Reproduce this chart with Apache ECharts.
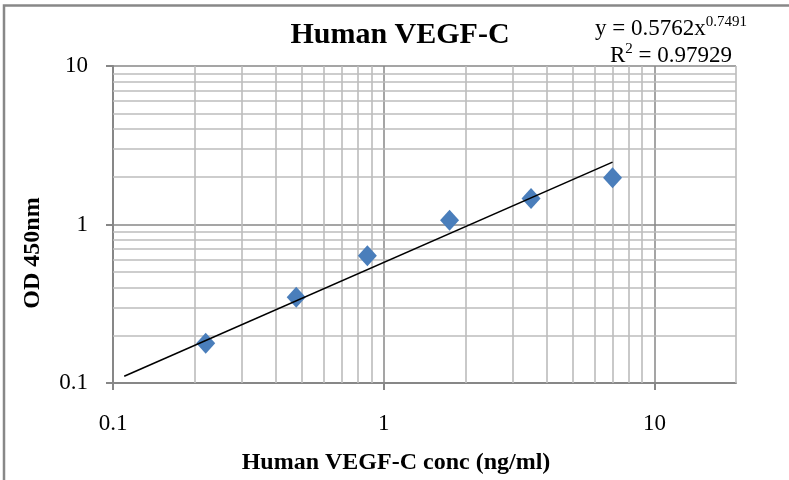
<!DOCTYPE html>
<html><head><meta charset="utf-8">
<script src="https://cdn.jsdelivr.net/npm/echarts@6/dist/echarts.min.js"></script>
<style>html,body{margin:0;padding:0;background:#fff}#c{width:789px;height:480px}</style>
</head><body><div id="c"></div>
<script>
// ---- data ----
const concentrations = [0.22, 0.475, 0.87, 1.75, 3.5, 7.0];   // ng/ml
const odValues = [0.178, 0.347, 0.634, 1.065, 1.46, 1.97];      // OD 450nm
const xTickValues = [0.1, 1, 10];
const yTickValues = [0.1, 1, 10];
const fitCoefA = 0.5762;
const fitExpB = 0.7491;
const fitR2 = '0.97929';
const fitRange = [0.11, 7.0];
const xMinorTicks = [0.2,0.3,0.4,0.5,0.6,0.7,0.8,0.9,2,3,4,5,6,7,8,9,20];
const yMinorTicks = [0.2,0.3,0.4,0.5,0.6,0.7,0.8,0.9,2,3,4,5,6,7,8,9];

const FONT = "'Liberation Serif', 'Times New Roman', serif";
const MAJOR = '#878787', MINOR = '#bcbcbc';

const scatterData = concentrations.map((x, i) => [x, odValues[i]]);
const trendData = fitRange.map(x => [x, fitCoefA * Math.pow(x, fitExpB)]);

function fmt(v) { return v < 1 ? String(+v.toFixed(1)) : String(Math.round(v)); }

const minorLines = xMinorTicks.map(v => ({ xAxis: v }))
  .concat(yMinorTicks.map(v => ({ yAxis: v })));

const chart = echarts.init(document.getElementById('c'), null, { renderer: 'canvas' });
chart.setOption({
  animation: false,
  backgroundColor: '#fff',
  title: [{
    text: 'Human VEGF-C',
    left: 400, top: 20, textAlign: 'center', padding: 0,
    textStyle: { fontFamily: FONT, fontSize: 30, fontWeight: 'bold', color: '#000' }
  }, {
    text: '{n|y = ' + fitCoefA + 'x}{s|' + fitExpB + '}\n{n|R}{s|2}{n| = ' + fitR2 + '}',
    left: 671, top: 15, textAlign: 'center', padding: 0,
    textStyle: {
      fontFamily: FONT, color: '#000', fontWeight: 'normal', align: 'center',
      rich: {
        n: { fontFamily: FONT, fontSize: 23, fontWeight: 'normal', lineHeight: 27, color: '#000' },
        s: { fontFamily: FONT, fontSize: 15, fontWeight: 'normal', lineHeight: 15, verticalAlign: 'top', color: '#000' }
      }
    }
  }],
  grid: { left: 113, top: 66, right: 53, bottom: 97, containLabel: false },
  xAxis: {
    type: 'log', logBase: 10, min: 0.1, max: 20,
    axisLine: { onZero: false, lineStyle: { color: MAJOR, width: 2 } },
    axisTick: { show: true, length: 7, customValues: xTickValues, lineStyle: { color: MAJOR, width: 2 } },
    axisLabel: { margin: 29, fontFamily: FONT, fontSize: 23, color: '#000', customValues: xTickValues, formatter: fmt },
    splitLine: { show: true, lineStyle: { color: MAJOR, width: 1.5 } }
  },
  yAxis: {
    type: 'log', logBase: 10, min: 0.1, max: 10,
    axisLine: { show: true, onZero: false, lineStyle: { color: MAJOR, width: 2 } },
    axisTick: { show: true, length: 7, customValues: yTickValues, lineStyle: { color: MAJOR, width: 2 } },
    axisLabel: { margin: 25, fontFamily: FONT, fontSize: 23, color: '#000', customValues: yTickValues, formatter: fmt },
    splitLine: { show: true, lineStyle: { color: MAJOR, width: 1.5 } }
  },
  series: [{
    type: 'scatter', data: [], z: 1, silent: true,
    markLine: {
      silent: true, symbol: ['none', 'none'], animation: false,
      label: { show: false },
      lineStyle: { color: MINOR, width: 1.6, type: 'solid', opacity: 1 },
      emphasis: { disabled: true },
      data: minorLines
    }
  }, {
    name: 'OD', type: 'scatter', data: scatterData, z: 10, silent: true,
    symbol: 'diamond', symbolSize: [19, 21],
    itemStyle: { color: '#4a7ebb', opacity: 1, borderWidth: 0 },
    emphasis: { disabled: true }
  }, {
    name: 'Power trendline', type: 'line', data: trendData, z: 11, silent: true,
    showSymbol: false, symbol: 'none',
    lineStyle: { color: '#000', width: 1.6 }
  }],
  graphic: [{
    type: 'rect', shape: { x: 4, y: 5.5, width: 900, height: 600 },
    style: { fill: 'none', stroke: '#888', lineWidth: 2.5 }, silent: true
  }, {
    type: 'text', x: 396, y: 463,
    style: { text: 'Human VEGF-C conc (ng/ml)', fontFamily: FONT, fontSize: 24, fontWeight: 'bold',
      fill: '#000', textAlign: 'center', textVerticalAlign: 'middle' }
  }, {
    type: 'text', x: 33, y: 253, rotation: Math.PI / 2,
    style: { text: 'OD 450nm', fontFamily: FONT, fontSize: 24, fontWeight: 'bold',
      fill: '#000', textAlign: 'center', textVerticalAlign: 'middle' }
  }]
});
</script></body></html>
